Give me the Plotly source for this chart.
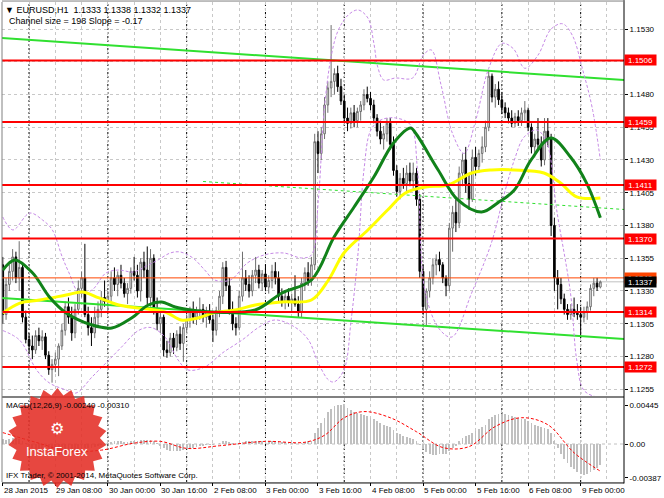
import numpy as np
import plotly.graph_objects as go

# ---------------- data ----------------
opens = [1.1350,1.1312,1.1335,1.1345,1.1356,1.1340,1.1348,1.1310,1.1293,1.1288,
         1.1285,1.1296,1.1292,1.1295,1.1281,1.1270,1.1274,1.1278,1.1288,1.1300,
         1.1318,1.1310,1.1298,1.1316,1.1332,1.1340,1.1312,1.1302,1.1298,1.1310,
         1.1316,1.1325,1.1322,1.1326,1.1340,1.1335,1.1342,1.1336,1.1328,1.1332,
         1.1345,1.1342,1.1330,1.1352,1.1346,1.1325,1.1355,1.1316,1.1305,1.1310,
         1.1285,1.1283,1.1294,1.1287,1.1297,1.1290,1.1302,1.1308,1.1315,1.1310,
         1.1314,1.1316,1.1310,1.1314,1.1308,1.1300,1.1315,1.1326,1.1348,1.1334,
         1.1316,1.1305,1.1302,1.1326,1.1340,1.1335,1.1330,1.1342,1.1346,1.1336,
         1.1343,1.1333,1.1338,1.1345,1.1340,1.1326,1.1322,1.1326,1.1322,1.1324,
         1.1320,1.1314,1.1336,1.1344,1.1338,1.1350,1.1444,1.1435,1.1450,1.1472,
         1.1485,1.1490,1.1496,1.1486,1.1475,1.1462,1.1458,1.1466,1.1460,1.1467,
         1.1472,1.1480,1.1477,1.1472,1.1462,1.1452,1.1446,1.1450,1.1458,1.1442,
         1.1422,1.1406,1.1416,1.1412,1.1420,1.1414,1.1420,1.1400,1.1345,1.1316,
         1.1330,1.1340,1.1350,1.1354,1.1350,1.1340,1.1334,1.1378,1.1390,1.1382,
         1.1420,1.1430,1.1412,1.1400,1.1432,1.1425,1.1435,1.1440,1.1455,1.1494,
         1.1478,1.1484,1.1476,1.1470,1.1466,1.1462,1.1458,1.1463,1.1460,1.1466,
         1.1468,1.1455,1.1440,1.1446,1.1442,1.1430,1.1452,1.1446,1.1380,1.1340,
         1.1335,1.1324,1.1316,1.1312,1.1316,1.1313,1.1312,1.1310,1.1314,1.1318,
         1.1332,1.1336,1.1333]
highs = [1.1356,1.1340,1.1350,1.1362,1.1360,1.1368,1.1352,1.1315,1.1298,1.1296,
         1.1300,1.1302,1.1300,1.1298,1.1284,1.1278,1.1283,1.1290,1.1305,1.1322,
         1.1325,1.1318,1.1320,1.1338,1.1345,1.1366,1.1318,1.1310,1.1318,1.1322,
         1.1330,1.1338,1.1330,1.1345,1.1348,1.1345,1.1350,1.1340,1.1336,1.1348,
         1.1356,1.1350,1.1355,1.1360,1.1364,1.1362,1.1358,1.1325,1.1315,1.1312,
         1.1292,1.1298,1.1298,1.1300,1.1303,1.1305,1.1312,1.1318,1.1322,1.1318,
         1.1325,1.1320,1.1318,1.1320,1.1312,1.1318,1.1330,1.1352,1.1353,1.1340,
         1.1322,1.1310,1.1330,1.1360,1.1346,1.1342,1.1346,1.1356,1.1350,1.1346,
         1.1350,1.1342,1.1350,1.1352,1.1345,1.1332,1.1330,1.1332,1.1328,1.1342,
         1.1326,1.1340,1.1348,1.1352,1.1356,1.1450,1.1452,1.1455,1.1478,1.1490,
         1.1533,1.1500,1.1502,1.1492,1.1480,1.1470,1.1470,1.1472,1.1470,1.1475,
         1.1484,1.1486,1.1482,1.1476,1.1465,1.1460,1.1456,1.1462,1.1462,1.1448,
         1.1426,1.1420,1.1424,1.1426,1.1428,1.1428,1.1424,1.1404,1.1350,1.1332,
         1.1345,1.1355,1.1358,1.1360,1.1352,1.1342,1.1382,1.1395,1.1400,1.1425,
         1.1435,1.1440,1.1420,1.1438,1.1440,1.1438,1.1448,1.1460,1.1498,1.1496,
         1.1488,1.1490,1.1482,1.1474,1.1470,1.1468,1.1466,1.1468,1.1470,1.1475,
         1.1470,1.1458,1.1450,1.1462,1.1448,1.1462,1.1462,1.1450,1.1386,1.1346,
         1.1340,1.1328,1.1320,1.1320,1.1325,1.1320,1.1318,1.1318,1.1322,1.1335,
         1.1340,1.1340,1.1338]
lows = [1.1305,1.1308,1.1330,1.1338,1.1336,1.1330,1.1306,1.1290,1.1282,1.1278,
        1.1282,1.1288,1.1285,1.1278,1.1266,1.1260,1.1268,1.1265,1.1285,1.1296,
        1.1305,1.1292,1.1294,1.1312,1.1325,1.1310,1.1296,1.1288,1.1294,1.1304,
        1.1310,1.1318,1.1315,1.1322,1.1330,1.1326,1.1332,1.1325,1.1320,1.1328,
        1.1338,1.1325,1.1322,1.1340,1.1320,1.1318,1.1312,1.1300,1.1298,1.1280,
        1.1279,1.1280,1.1282,1.1284,1.1285,1.1276,1.1298,1.1302,1.1305,1.1304,
        1.1308,1.1306,1.1302,1.1305,1.1291,1.1296,1.1310,1.1320,1.1330,1.1312,
        1.1300,1.1296,1.1300,1.1322,1.1330,1.1325,1.1326,1.1336,1.1332,1.1330,
        1.1330,1.1328,1.1332,1.1335,1.1322,1.1318,1.1316,1.1318,1.1314,1.1318,
        1.1310,1.1310,1.1330,1.1334,1.1334,1.1346,1.1420,1.1430,1.1446,1.1466,
        1.1478,1.1480,1.1482,1.1472,1.1458,1.1452,1.1454,1.1455,1.1455,1.1460,
        1.1468,1.1474,1.1468,1.1458,1.1448,1.1442,1.1438,1.1444,1.1438,1.1418,
        1.1402,1.1400,1.1408,1.1406,1.1410,1.1408,1.1395,1.1340,1.1312,1.1303,
        1.1325,1.1335,1.1342,1.1345,1.1336,1.1326,1.1330,1.1360,1.1375,1.1378,
        1.1410,1.1405,1.1392,1.1398,1.1418,1.1420,1.1428,1.1436,1.1452,1.1474,
        1.1470,1.1472,1.1465,1.1462,1.1458,1.1455,1.1455,1.1456,1.1456,1.1460,
        1.1452,1.1435,1.1432,1.1438,1.1425,1.1426,1.1440,1.1372,1.1330,1.1316,
        1.1320,1.1312,1.1308,1.1308,1.1310,1.1308,1.1294,1.1306,1.1308,1.1315,
        1.1326,1.1330,1.1332]
closes = [1.1312,1.1335,1.1345,1.1356,1.1340,1.1348,1.1310,1.1293,1.1288,1.1285,
          1.1296,1.1292,1.1295,1.1281,1.1270,1.1274,1.1278,1.1288,1.1300,1.1318,
          1.1310,1.1298,1.1316,1.1332,1.1340,1.1312,1.1302,1.1298,1.1310,1.1316,
          1.1325,1.1322,1.1326,1.1340,1.1335,1.1342,1.1336,1.1328,1.1332,1.1345,
          1.1342,1.1330,1.1352,1.1346,1.1325,1.1355,1.1316,1.1305,1.1310,1.1285,
          1.1283,1.1294,1.1287,1.1297,1.1290,1.1302,1.1308,1.1315,1.1310,1.1314,
          1.1316,1.1310,1.1314,1.1308,1.1300,1.1315,1.1326,1.1348,1.1334,1.1316,
          1.1305,1.1302,1.1326,1.1340,1.1335,1.1330,1.1342,1.1346,1.1336,1.1343,
          1.1333,1.1338,1.1345,1.1340,1.1326,1.1322,1.1326,1.1322,1.1324,1.1320,
          1.1314,1.1336,1.1344,1.1338,1.1350,1.1444,1.1435,1.1450,1.1472,1.1485,
          1.1490,1.1496,1.1486,1.1475,1.1462,1.1458,1.1466,1.1460,1.1467,1.1472,
          1.1480,1.1477,1.1472,1.1462,1.1452,1.1446,1.1450,1.1458,1.1442,1.1422,
          1.1406,1.1416,1.1412,1.1420,1.1414,1.1420,1.1400,1.1345,1.1318,1.1330,
          1.1340,1.1350,1.1354,1.1350,1.1340,1.1334,1.1378,1.1390,1.1382,1.1420,
          1.1430,1.1412,1.1400,1.1432,1.1425,1.1435,1.1440,1.1455,1.1494,1.1478,
          1.1484,1.1476,1.1470,1.1466,1.1462,1.1458,1.1463,1.1460,1.1466,1.1468,
          1.1455,1.1440,1.1446,1.1442,1.1430,1.1452,1.1446,1.1380,1.1340,1.1335,
          1.1324,1.1316,1.1312,1.1316,1.1313,1.1312,1.1310,1.1314,1.1318,1.1332,
          1.1336,1.1333,1.1337]
bar_idx = list(range(len(opens)))

# moving averages (sampled along the drawn curves)
ma_green_idx = [0, 3.7, 9.1, 14.2, 19.3, 27.2, 33.2, 39.2, 44.3, 48.3, 52.5, 57.3, 63.3, 76.9, 85.0,
                94.0, 100.9, 107.0, 113.0, 119.0, 124.2, 125.7, 132.6, 138.6, 145.8, 150.7, 155.8,
                160.9, 166.9, 172.9, 177.8, 182.0]
ma_green_val = [1.13460, 1.13537, 1.13437, 1.13254, 1.13132, 1.13040, 1.13018, 1.13094, 1.13193,
                1.13216, 1.13178, 1.13155, 1.13140, 1.13155, 1.13285, 1.13384, 1.13712, 1.13941,
                1.14170, 1.14430, 1.14544, 1.14506, 1.14224, 1.13995, 1.13903, 1.13972, 1.14071,
                1.14300, 1.14468, 1.14323, 1.14124, 1.13860]
ma_yellow_idx = [0, 5.2, 11.2, 19.3, 24.2, 29.3, 35.3, 41.3, 49.5, 54.3, 59.4, 63.9, 70.8, 76.9,
                 85.0, 94.0, 99.2, 103.9, 111.2, 117.2, 122.6, 128.7, 135.6, 142.8, 148.9, 155.8,
                 164.8, 169.9, 174.8, 182.0]
ma_yellow_val = [1.13132, 1.13208, 1.13231, 1.13269, 1.13292, 1.13247, 1.13193, 1.13170, 1.13140,
                 1.13079, 1.13094, 1.13132, 1.13155, 1.13193, 1.13216, 1.13231, 1.13384, 1.13590,
                 1.13766, 1.13918, 1.14048, 1.14094, 1.14109, 1.14201, 1.14224, 1.14224, 1.14201,
                 1.14124, 1.14018, 1.14010]

# violet dotted bands
band_up_idx = [0, 3.1, 8.2, 12.1, 15.1, 18.1, 20.2, 23.3, 27.2, 31.4, 35.3, 39.8, 43.7, 47.3, 51.0,
               54.0, 57.9, 61.5, 64.5, 69.3, 74.5, 79.6, 85.6, 91.0, 94.0, 96.1, 97.9, 100.1, 102.2,
               105.2, 108.2, 111.2, 113.0, 114.2, 116.0, 119.6, 124.8, 128.1, 130.5, 133.5, 137.0,
               140.5, 144.0, 148.0, 152.0, 155.5, 159.0, 163.0, 167.0, 170.5, 173.5, 176.5, 179.5, 182.0]
band_up_val = [1.13865, 1.13766, 1.13895, 1.13842, 1.13766, 1.13560, 1.13437, 1.13285, 1.13308,
               1.13437, 1.13460, 1.13445, 1.13491, 1.13537, 1.13590, 1.13598, 1.13552, 1.13460,
               1.13384, 1.13384, 1.13514, 1.13575, 1.13590, 1.13552, 1.13575, 1.13995, 1.14682,
               1.15102, 1.15292, 1.15407, 1.15445, 1.15384, 1.15193, 1.15010, 1.14911, 1.14926,
               1.14926, 1.15102, 1.15140, 1.14870, 1.14500, 1.14350, 1.14600, 1.15000, 1.15190,
               1.15150, 1.15000, 1.15100, 1.15300, 1.15340, 1.15250, 1.15000, 1.14700, 1.14300]
band_lo_idx = [0, 5.2, 10.3, 14.2, 19.3, 22.3, 27.2, 32.3, 36.2, 41.3, 45.2, 49.5, 53.4, 56.4, 61.5,
               66.9, 72.9, 78.1, 82.9, 88.9, 93.1, 96.1, 99.2, 100.9, 103.9, 106.1, 108.2, 110.0,
               112.1, 115.1, 119.6, 124.2, 126.3, 128.7, 133.2, 136.8, 142.8, 148.8, 152.8, 155.8,
               158.8, 162.7, 165.7, 168.7, 172.9, 174.8, 176.9, 180.8, 182.0]
band_lo_val = [1.12998, 1.12923, 1.12697, 1.12598, 1.12544, 1.12521, 1.12644, 1.12773, 1.12873,
               1.12998, 1.13021, 1.12946, 1.12773, 1.12697, 1.12720, 1.12827, 1.12926, 1.13025,
               1.13079, 1.13025, 1.12926, 1.12750, 1.12621, 1.12606, 1.12697, 1.13079, 1.13590,
               1.14224, 1.14529, 1.14605, 1.14621, 1.14567, 1.14224, 1.13285, 1.13002, 1.12949,
               1.13285, 1.13666, 1.14048, 1.14300, 1.14476, 1.14529, 1.14430, 1.13918, 1.13285,
               1.12773, 1.12544, 1.12491, 1.12491]

# regression channel (lime) and its dashed middle line
channel_idx = [-1, 190]
channel_up = [1.15233, 1.14909]
channel_lo = [1.13248, 1.12932]
channel_mid_idx = [61, 190]
channel_mid = [1.14136, 1.13921]

levels = [1.1506, 1.1459, 1.1411, 1.1370, 1.1314, 1.1272]
ask_price = 1.1340
bid_price = 1.1337

price_ticks = [1.1255, 1.1280, 1.1305, 1.1330, 1.1355, 1.1380, 1.1405, 1.1430, 1.1455, 1.1480, 1.1505, 1.1530]
price_ticktext = ["1.1255", "1.1280", "1.1305", "1.1330", "1.1355", "1.1380", "1.1405", "1.1430",
                  "1.1455", "1.1480", "", "1.1530"]

macd_hist = [0.0006, 0.0005, 0.0006, 0.0007, 0.0007, 0.0006, 0.0004, 0.0001,
             -0.0002, -0.0004, -0.0006, -0.0007, -0.0008, -0.0009, -0.0011, -0.0012,
             -0.0013, -0.0013, -0.0012, -0.0011, -0.0010, -0.0010, -0.0009, -0.0007,
             -0.0005, -0.0004, -0.0004, -0.0004, -0.0003, -0.0002, -0.0001, 0.0000,
             0.0001, 0.0002, 0.0003, 0.0003, 0.0003, 0.0002, 0.0002, 0.0003,
             0.0004, 0.0004, 0.0005, 0.0005, 0.0005, 0.0005, 0.0003, 0.0001,
             -0.0002, -0.0005, -0.0007, -0.0008, -0.0008, -0.0008, -0.0008, -0.0007,
             -0.0006, -0.0005, -0.0004, -0.0003, -0.0002, -0.0002, -0.0001, -0.0001,
             -0.0001, 0.0000, 0.0001, 0.0003, 0.0003, 0.0002, 0.0001, 0.0000,
             0.0001, 0.0002, 0.0003, 0.0003, 0.0003, 0.0004, 0.0004, 0.0004,
             0.0004, 0.0004, 0.0004, 0.0004, 0.0003, 0.0002, 0.0002, 0.0001,
             0.0001, 0.0001, 0.0000, 0.0001, 0.0002, 0.0003, 0.0004, 0.0012,
             0.0018, 0.0024, 0.0030, 0.0036, 0.0040, 0.0043, 0.0044, 0.0044,
             0.0043, 0.0041, 0.0039, 0.0037, 0.0035, 0.0034, 0.0033, 0.0032,
             0.0030, 0.0028, 0.0026, 0.0024, 0.0022, 0.0021, 0.0019, 0.0016,
             0.0013, 0.0011, 0.0009, 0.0008, 0.0007, 0.0006, 0.0004, -0.0001,
             -0.0006, -0.0009, -0.0011, -0.0012, -0.0012, -0.0011, -0.0011, -0.0011,
             -0.0008, -0.0004, -0.0002, 0.0003, 0.0007, 0.0009, 0.0010, 0.0013,
             0.0015, 0.0017, 0.0019, 0.0022, 0.0028, 0.0031, 0.0033, 0.0034,
             0.0034, 0.0034, 0.0033, 0.0032, 0.0031, 0.0030, 0.0029, 0.0028,
             0.0026, 0.0024, 0.0022, 0.0021, 0.0019, 0.0018, 0.0017, 0.0012,
             0.0004, -0.0004, -0.0011, -0.0017, -0.0022, -0.0026, -0.0029, -0.0032,
             -0.0034, -0.0035, -0.0034, -0.0032, -0.0030, -0.0027, -0.0024]
signal_idx = [0, 10, 20, 30, 40, 48, 56, 66, 80, 92, 98, 104, 110, 118, 126, 134, 142, 150, 158, 166, 174, 182]
signal_val = [0.0013, 0.0002, -0.0008, -0.0007, 0.0001, 0.0003, -0.0005, -0.0002, 0.0003, 0.0002,
              0.0010, 0.0030, 0.0037, 0.0030, 0.0014, -0.0004, -0.0003, 0.0020, 0.0030, 0.0022,
              -0.0010, -0.0031]
macd_ticks = [-0.00387, 0.0, 0.00445]
macd_ticktext = ["-0.00387", "0.00", "0.00445"]

label_idx = [0, 16, 32, 48, 64, 80, 96, 112, 128, 144, 160, 176]
label_text = ["28 Jan 2015", "29 Jan 08:00", "30 Jan 00:00", "30 Jan 16:00", "2 Feb 08:00",
              "3 Feb 00:00", "3 Feb 16:00", "4 Feb 08:00", "5 Feb 00:00", "5 Feb 16:00",
              "6 Feb 08:00", "9 Feb 00:00"]
day_start_idx = [8, 32, 56, 80, 104, 128, 152, 176]

# ---------------- geometry ----------------
W, H = 664, 498
ML, MR, MT, MB = 2, 33, 2, 16
PW, PH = W - ML - MR, H - MT - MB
X_RANGE = [-0.24, 189.2]
MAIN_DOM = [0.1792, 1.0]
MACD_DOM = [0.0, 0.175]
FONT = "Liberation Sans, Arial, sans-serif"


def px_to_paper(px, py):
    return (px - ML) / PW, (H - MB - py) / PH


fig = go.Figure()

# channel
fig.add_trace(go.Scatter(x=channel_idx, y=channel_up, mode="lines",
                         line=dict(color="#30e030", width=2), hoverinfo="skip"))
fig.add_trace(go.Scatter(x=channel_idx, y=channel_lo, mode="lines",
                         line=dict(color="#30e030", width=2), hoverinfo="skip"))
fig.add_trace(go.Scatter(x=channel_mid_idx, y=channel_mid, mode="lines",
                         line=dict(color="#30e030", width=1, dash="3px,3px"), hoverinfo="skip"))

# bands
for bx, by in ((band_up_idx, band_up_val), (band_lo_idx, band_lo_val)):
    fig.add_trace(go.Scatter(x=bx, y=by, mode="lines", line_shape="spline",
                             line=dict(color="#c68ae6", width=1, dash="3px,2px"), hoverinfo="skip"))

# candles
fig.add_trace(go.Candlestick(
    x=bar_idx, open=opens, high=highs, low=lows, close=closes,
    increasing=dict(line=dict(color="#6e6e6e", width=1), fillcolor="#ffffff"),
    decreasing=dict(line=dict(color="#000000", width=1), fillcolor="#000000"),
    whiskerwidth=0, hoverinfo="skip"))

# moving averages
fig.add_trace(go.Scatter(x=ma_yellow_idx, y=ma_yellow_val, mode="lines", line_shape="spline",
                         line=dict(color="#ffff00", width=3), hoverinfo="skip"))
fig.add_trace(go.Scatter(x=ma_green_idx, y=ma_green_val, mode="lines", line_shape="spline",
                         line=dict(color="#11821a", width=3), hoverinfo="skip"))

# MACD
fig.add_trace(go.Bar(x=bar_idx, y=macd_hist, marker=dict(color="#c0c0c0", line=dict(width=0)),
                     width=0.55, xaxis="x2", yaxis="y2", hoverinfo="skip"))
fig.add_trace(go.Scatter(x=signal_idx, y=signal_val, mode="lines", line_shape="spline",
                         line=dict(color="#ff0000", width=1, dash="3px,2px"),
                         xaxis="x2", yaxis="y2", hoverinfo="skip"))

shapes = []
for lv in levels:
    shapes.append(dict(type="line", xref="paper", yref="y", x0=0, x1=1, y0=lv, y1=lv,
                       line=dict(color="#ff0000", width=2), layer="above"))
shapes.append(dict(type="line", xref="paper", yref="y", x0=0, x1=1, y0=ask_price, y1=ask_price,
                   line=dict(color="#ff4500", width=1), layer="above"))
shapes.append(dict(type="line", xref="paper", yref="y", x0=0, x1=1, y0=bid_price, y1=bid_price,
                   line=dict(color="#c0c0c0", width=1), layer="below"))
for d in day_start_idx:
    shapes.append(dict(type="line", xref="x", yref="paper", x0=d, x1=d, y0=0, y1=1,
                       line=dict(color="#000000", width=1, dash="2px,2px"), layer="below"))
shapes.append(dict(type="line", xref="paper", yref="y2", x0=0, x1=1, y0=0, y1=0,
                   line=dict(color="#c0c0c0", width=1, dash="3px,3px"), layer="below"))
shapes.append(dict(type="rect", xref="paper", yref="paper", x0=0, x1=1, y0=MACD_DOM[1], y1=MAIN_DOM[0],
                   line=dict(width=0), fillcolor="#808080", layer="above"))
shapes.append(dict(type="line", xref="paper", yref="paper", x0=1, x1=1, y0=-0.003, y1=1.004,
                   line=dict(color="#000000", width=1), layer="above"))
shapes.append(dict(type="line", xref="paper", yref="paper", x0=0, x1=0, y0=0, y1=1,
                   line=dict(color="#808080", width=1), layer="above"))
shapes.append(dict(type="line", xref="paper", yref="paper", x0=0, x1=1, y0=1.002, y1=1.002,
                   line=dict(color="#808080", width=1), layer="above"))
shapes.append(dict(type="line", xref="paper", yref="paper", x0=0, x1=1, y0=-0.002, y1=-0.002,
                   line=dict(color="#000000", width=1), layer="above"))

# InstaForex badge (decoration)
cx, cy, r_out, r_in, n = 58, 438, 50, 43, 22
ang = np.linspace(0, 2 * np.pi, 2 * n, endpoint=False) - np.pi / 2
rad = np.where(np.arange(2 * n) % 2 == 0, r_out, r_in)
pts = [px_to_paper(cx + r * np.cos(a), cy + r * np.sin(a)) for r, a in zip(rad, ang)]
path = "M " + " L ".join(f"{x:.5f},{y:.5f}" for x, y in pts) + " Z"
shapes.append(dict(type="path", xref="paper", yref="paper", path=path,
                   fillcolor="rgba(228,45,38,0.88)", line=dict(width=0), layer="above"))

annotations = []
for i, t in zip(label_idx, label_text):
    annotations.append(dict(x=i, xref="x2", y=-0.004, yref="paper", text=t, showarrow=False,
                            xanchor="left", yanchor="top", xshift=-1,
                            font=dict(family=FONT, size=8, color="#000000")))
for lv in levels:
    annotations.append(dict(x=1, xref="paper", y=lv, yref="y", text=f"{lv:.4f}", showarrow=False,
                            xanchor="left", yanchor="middle", xshift=0, bgcolor="#ff0000",
                            width=31, height=10, borderpad=0,
                            font=dict(family=FONT, size=8, color="#ffffff")))
annotations.append(dict(x=1, xref="paper", y=ask_price, yref="y", text=f"{ask_price:.4f}", showarrow=False,
                        xanchor="left", yanchor="middle", bgcolor="#ff4500", width=31, height=10,
                        borderpad=0, font=dict(family=FONT, size=8, color="#ffffff")))
annotations.append(dict(x=1, xref="paper", y=bid_price, yref="y", text=f"{bid_price:.4f}", showarrow=False,
                        xanchor="left", yanchor="middle", bgcolor="#000000", width=31, height=10,
                        borderpad=0, font=dict(family=FONT, size=8, color="#ffffff")))
annotations.append(dict(x=0.002, xref="paper", y=1, yref="paper", yshift=-1,
                        text="▼ EURUSD,H1  1.1333 1.1338 1.1332 1.1337", showarrow=False,
                        xanchor="left", yanchor="top", font=dict(family=FONT, size=9, color="#000000")))
annotations.append(dict(x=0.008, xref="paper", y=1, yref="paper", yshift=-12,
                        text="Channel size = 198 Slope = -0.17", showarrow=False,
                        xanchor="left", yanchor="top", font=dict(family=FONT, size=9, color="#000000")))
annotations.append(dict(x=0.003, xref="paper", y=MACD_DOM[1], yref="paper", yshift=-1,
                        text="MACD(12,26,9) -0.00240 -0.00310", showarrow=False,
                        xanchor="left", yanchor="top", font=dict(family=FONT, size=8, color="#000000")))
annotations.append(dict(x=0.003, xref="paper", y=0, yref="paper", yshift=0,
                        text="IFX Trader, © 2001-2014, MetaQuotes Software Corp.", showarrow=False,
                        xanchor="left", yanchor="bottom", font=dict(family=FONT, size=8, color="#000000")))
bx_, by_ = px_to_paper(58, 451)
annotations.append(dict(x=bx_, xref="paper", y=by_, yref="paper", text="InstaForex", showarrow=False,
                        xanchor="center", yanchor="middle", font=dict(family=FONT, size=13, color="#ffffff")))
ix_, iy_ = px_to_paper(58, 428)
annotations.append(dict(x=ix_, xref="paper", y=iy_, yref="paper", text="⚙", showarrow=False,
                        xanchor="center", yanchor="middle", font=dict(family="DejaVu Sans", size=16, color="#ffffff")))

grid = dict(showgrid=True, gridcolor="#c8c8c8", griddash="3px,3px", gridwidth=1)

fig.update_layout(
    width=W, height=H, margin=dict(l=ML, r=MR, t=MT, b=MB),
    paper_bgcolor="#ffffff", plot_bgcolor="#ffffff", showlegend=False,
    bargap=0,
    xaxis=dict(domain=[0, 1], anchor="y", range=X_RANGE, showticklabels=False, ticks="",
               rangeslider=dict(visible=False), zeroline=False, tickmode="linear", dtick=8, tick0=0, **grid),
    yaxis=dict(domain=MAIN_DOM, anchor="x", side="right", range=[1.124985, 1.155061],
               tickmode="array", tickvals=price_ticks, ticktext=price_ticktext,
               ticks="outside", ticklen=3, tickcolor="#000000",
               tickfont=dict(family=FONT, size=8, color="#000000"), zeroline=False, **grid),
    xaxis2=dict(domain=[0, 1], anchor="y2", range=X_RANGE, tickmode="array", tickvals=label_idx,
                ticktext=[""] * len(label_idx), ticks="outside", ticklen=3, tickcolor="#000000",
                zeroline=False, showgrid=False,
                minor=dict(tickmode="linear", dtick=8, tick0=0, showgrid=True, gridcolor="#c8c8c8",
                           griddash="3px,3px", ticks="")),
    yaxis2=dict(domain=MACD_DOM, anchor="x2", side="right", range=[-0.004336, 0.00525],
                tickmode="array", tickvals=macd_ticks, ticktext=macd_ticktext,
                ticks="outside", ticklen=3, tickcolor="#000000", showgrid=False, zeroline=False,
                tickfont=dict(family=FONT, size=8, color="#000000")),
    shapes=shapes, annotations=annotations,
)

fig.write_html("out.html", config={"displayModeBar": False, "staticPlot": True},
               post_script="document.body.style.margin='0';document.body.style.overflow='hidden';")
